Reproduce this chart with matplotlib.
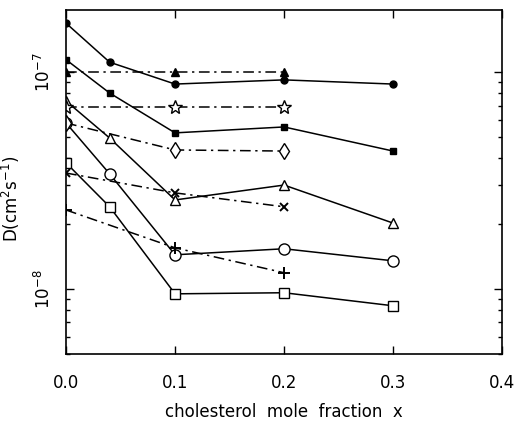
import numpy as np
import matplotlib
matplotlib.use('Agg')
from matplotlib import pyplot as plt

# cholesterol mole fraction
x_full = [0.0, 0.04, 0.1, 0.2, 0.3]
x_part = [0.0, 0.1, 0.2]

# solid-line series (D in cm^2/s)
d_circ_fill = [1.68e-7, 1.11e-7, 8.8e-8, 9.2e-8, 8.8e-8]
d_sq_fill = [1.14e-7, 8.0e-8, 5.24e-8, 5.58e-8, 4.32e-8]
d_tri_open = [7.35e-8, 4.96e-8, 2.57e-8, 3.01e-8, 2.01e-8]
d_circ_open = [5.82e-8, 3.39e-8, 1.435e-8, 1.53e-8, 1.346e-8]
d_sq_open = [3.81e-8, 2.39e-8, 9.48e-9, 9.59e-9, 8.35e-9]

# dash-dot series
d_tri_fill = [1.0e-7, 1.0e-7, 1.0e-7]
d_star = [6.93e-8, 6.93e-8, 6.93e-8]
d_diam = [5.82e-8, 4.37e-8, 4.32e-8]
d_cross = [3.42e-8, 2.77e-8, 2.39e-8]
d_plus = [2.31e-8, 1.545e-8, 1.186e-8]

plt.rcParams['font.family'] = 'DejaVu Sans'
plt.rcParams['font.size'] = 12

fig = plt.figure(figsize=(5.16, 4.22), dpi=100)
ax = fig.add_axes([0.128, 0.161, 0.845, 0.815])

dashdot = (0, (7, 3, 1.5, 3))
lw = 1.1

ax.plot(x_full, d_circ_fill, color='black', lw=lw, marker='o', ms=5)
ax.plot(x_full, d_sq_fill, color='black', lw=lw, marker='s', ms=5)
ax.plot(x_full, d_tri_open, color='black', lw=lw, marker='^', ms=7, mfc='white', mew=1.0)
ax.plot(x_full, d_circ_open, color='black', lw=lw, marker='o', ms=8, mfc='white', mew=1.0)
ax.plot(x_full, d_sq_open, color='black', lw=lw, marker='s', ms=6.5, mfc='white', mew=1.0)

ax.plot(x_part, d_tri_fill, color='black', lw=lw, ls=dashdot, marker='^', ms=6)
ax.plot(x_part, d_star, color='black', lw=lw, ls=dashdot, marker='*', ms=10, mfc='white', mew=1.0)
ax.plot(x_part, d_diam, color='black', lw=lw, ls=dashdot, marker='d', ms=8, mfc='white', mew=1.0)
ax.plot(x_part, d_cross, color='black', lw=lw, ls=dashdot, marker='x', ms=6, mew=1.4)
ax.plot(x_part, d_plus, color='black', lw=lw, ls=dashdot, marker='+', ms=9, mew=1.4)

ax.set_yscale('log')
ax.set_xlim(0.0, 0.4)
ax.set_ylim(5.0e-9, 1.93e-7)
ax.set_xticks([0.0, 0.1, 0.2, 0.3, 0.4])
ax.set_xticklabels(['0.0', '0.1', '0.2', '0.3', '0.4'])
ax.set_yticks([1e-8, 1e-7])
ax.set_yticklabels(['10$^{-8}$', '10$^{-7}$'], rotation=90, va='center')

ax.tick_params(which='both', direction='in', top=True, right=True, width=1.0)
ax.tick_params(which='major', length=6, pad=9)
ax.tick_params(which='minor', length=3)
ax.tick_params(axis='x', pad=14)
for sp in ax.spines.values():
    sp.set_linewidth(1.2)

ax.set_xlabel('cholesterol  mole  fraction  x', labelpad=8)
ax.set_ylabel('D(cm$^2$s$^{-1}$)', labelpad=8)
ax.yaxis.set_label_coords(-0.1, 0.45)

fig.savefig('out.png', dpi=100)
